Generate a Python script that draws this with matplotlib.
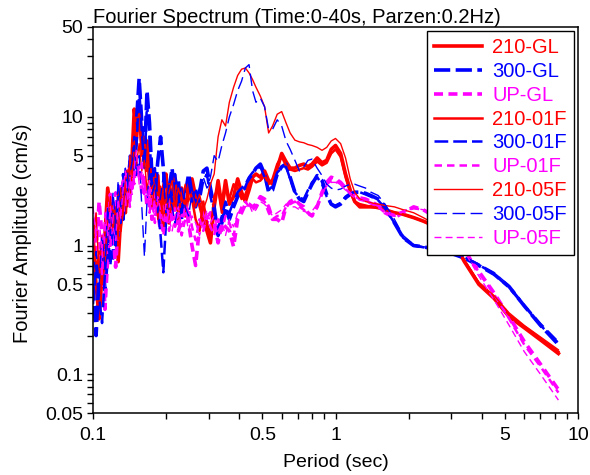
import numpy as np
import matplotlib
matplotlib.use("Agg")
import matplotlib.pyplot as plt
from matplotlib.ticker import FixedLocator, NullFormatter

plt.rcParams['font.family'] = ['Liberation Sans', 'DejaVu Sans']

# period grid (sec)
period = [0.100, 0.103, 0.106, 0.109, 0.112, 0.115, 0.118, 0.121, 0.124, 0.127,
          0.130, 0.133, 0.136, 0.139, 0.142, 0.145, 0.148, 0.151, 0.155, 0.159,
          0.163, 0.167, 0.171, 0.175, 0.180, 0.185, 0.190, 0.195, 0.200, 0.206,
          0.212, 0.218, 0.225, 0.232, 0.240, 0.248, 0.256, 0.265, 0.275, 0.285,
          0.295, 0.305, 0.316, 0.328, 0.340, 0.352, 0.365, 0.380, 0.395, 0.410,
          0.425, 0.440, 0.455, 0.470, 0.490, 0.510, 0.530, 0.550, 0.575, 0.600,
          0.625, 0.650, 0.680, 0.710, 0.740, 0.770, 0.800, 0.840, 0.880, 0.920,
          0.960, 1.000, 1.050, 1.100, 1.150, 1.200, 1.260, 1.330, 1.400, 1.500,
          1.600, 1.750, 1.900, 2.100, 2.300, 2.600, 3.000, 3.400, 3.900, 4.500,
          5.200, 6.000, 7.000, 8.300]

a_210_gl = [0.85, 0.5, 0.27, 0.6, 1.2, 2.8, 1.9, 1.2, 1.8, 0.75,
            1.6, 2.5, 1.8, 3.8, 2.6, 5.0, 11.5, 8.0, 13.0, 6.0,
            4.5, 6.5, 3.2, 4.0, 2.0, 3.5, 1.5, 2.8, 3.6, 1.5,
            2.6, 3.3, 2.2, 2.8, 1.7, 2.7, 3.3, 2.4, 2.1, 1.6,
            1.3, 1.05, 2.0, 3.2, 2.0, 3.2, 2.1, 2.4, 3.3, 2.6,
            2.2, 2.7, 3.4, 3.6, 3.4, 3.8, 3.2, 3.0, 4.0, 5.2,
            4.5, 4.0, 4.0, 4.2, 4.3, 4.1, 4.3, 4.8, 4.4, 4.6,
            5.6, 6.0, 5.2, 3.6, 2.7, 2.2, 2.0, 2.0, 2.0, 2.0,
            1.9, 1.8, 1.75, 1.65, 1.55, 1.4, 1.15, 0.75, 0.5, 0.39,
            0.28, 0.23, 0.185, 0.145]

a_300_gl = [0.5, 0.2, 0.6, 1.0, 0.45, 0.9, 1.5, 0.8, 2.2, 1.2,
            2.8, 1.6, 3.0, 2.2, 4.0, 3.0, 5.5, 9.0, 20.0, 9.0,
            4.5, 16.0, 9.0, 3.5, 2.5, 4.5, 7.0, 4.0, 2.2, 2.8,
            4.0, 2.0, 3.2, 1.6, 2.5, 3.6, 2.5, 2.0, 2.6, 3.8,
            4.0, 2.8, 2.0, 1.2, 1.5, 2.0, 1.6, 2.0, 2.4, 2.7,
            2.8, 3.3, 3.6, 4.0, 4.3, 3.6, 2.6, 2.7, 3.6, 4.1,
            4.3, 3.4, 2.6, 2.3, 2.2, 2.6, 3.0, 3.5, 3.2, 2.5,
            2.1, 2.0, 2.1, 2.35, 2.5, 2.6, 2.6, 2.55, 2.45, 2.3,
            2.0, 1.5, 1.15, 1.0, 0.98, 0.93, 0.87, 0.8, 0.7, 0.6,
            0.48, 0.34, 0.24, 0.17]

a_up_gl = [1.6, 0.9, 2.2, 1.2, 0.32, 0.8, 2.5, 1.2, 0.68, 1.5,
           3.0, 1.8, 3.6, 2.4, 4.5, 2.8, 5.0, 3.6, 4.2, 2.6,
           3.5, 2.0, 2.8, 1.6, 2.6, 1.8, 1.3, 2.0, 1.5, 2.2,
           1.6, 2.0, 1.3, 1.6, 2.2, 1.5, 1.0, 0.7, 1.4, 1.9,
           1.5, 1.8, 1.5, 1.05, 1.5, 1.4, 1.3, 0.98, 1.6, 1.8,
           2.1, 2.1, 2.0, 2.1, 2.4, 2.3, 2.0, 1.6, 1.6, 1.5,
           2.0, 2.2, 2.3, 2.1, 2.0, 1.8, 1.7, 2.0, 2.6, 3.1,
           3.4, 3.3, 3.1, 2.8, 2.6, 2.45, 2.35, 2.3, 2.2, 2.05,
           1.8, 1.65, 1.8, 2.0, 1.9, 1.65, 1.3, 0.95, 0.63, 0.43,
           0.28, 0.18, 0.12, 0.076]

a_210_01f = [1.4, 0.6, 0.9, 0.5, 0.8, 1.6, 1.0, 2.2, 1.4, 2.6,
             1.3, 2.0, 3.5, 2.4, 4.5, 3.2, 9.5, 6.0, 10.5, 5.0,
             7.0, 3.8, 5.0, 2.8, 3.6, 1.8, 2.6, 1.3, 2.5, 3.0,
             1.8, 3.5, 1.6, 2.6, 2.0, 3.0, 2.3, 1.6, 1.3, 2.2,
             1.5, 1.2, 2.4, 2.8, 1.8, 2.9, 2.3, 3.0, 2.8, 2.3,
             2.5, 3.0, 3.3, 3.1, 3.2, 3.5, 3.0, 3.3, 4.3, 4.9,
             4.2, 3.9, 3.8, 3.9, 4.0, 3.9, 4.1, 4.5, 4.2, 4.4,
             5.2, 5.6, 4.9, 3.4, 2.6, 2.2, 2.1, 2.05, 2.0, 1.95,
             1.9, 1.8, 1.75, 1.65, 1.55, 1.4, 1.15, 0.76, 0.51, 0.40,
             0.29, 0.235, 0.19, 0.15]

a_300_01f = [0.35, 0.7, 0.4, 0.25, 0.6, 1.3, 0.7, 1.8, 1.0, 2.4,
             1.5, 3.6, 2.0, 3.0, 5.0, 3.8, 7.0, 5.5, 17.0, 7.5,
             4.0, 13.0, 7.0, 3.0, 4.0, 2.0, 1.2, 0.62, 1.5, 3.0,
             2.2, 3.6, 2.4, 1.8, 2.8, 3.2, 2.2, 2.8, 2.2, 3.2,
             3.6, 2.4, 1.8, 1.4, 1.7, 2.2, 1.8, 2.2, 2.6, 2.8,
             3.0, 3.4, 3.7, 3.9, 4.1, 3.4, 2.7, 2.9, 3.7, 4.0,
             4.1, 3.3, 2.6, 2.35, 2.3, 2.7, 3.1, 3.4, 3.0, 2.4,
             2.1, 2.05, 2.15, 2.4, 2.55, 2.6, 2.6, 2.5, 2.4, 2.25,
             1.95, 1.5, 1.15, 1.0, 0.97, 0.93, 0.88, 0.81, 0.71, 0.6,
             0.47, 0.34, 0.24, 0.175]

a_up_01f = [1.0, 1.8, 1.1, 0.6, 1.4, 2.0, 1.0, 1.7, 2.6, 1.3,
            2.2, 3.3, 2.0, 3.0, 2.0, 3.8, 3.0, 4.5, 3.2, 3.8,
            2.4, 3.0, 1.8, 2.4, 1.5, 2.2, 1.6, 1.2, 1.8, 1.3,
            1.9, 1.4, 1.8, 1.2, 1.6, 2.0, 1.4, 1.1, 1.6, 1.3,
            1.7, 1.4, 1.2, 1.6, 1.3, 1.7, 1.5, 1.2, 1.7, 2.0,
            2.2, 2.0, 1.9, 2.0, 2.3, 2.2, 1.8, 1.6, 1.7, 1.7,
            2.0, 2.1, 2.2, 2.0, 1.9, 1.75, 1.7, 2.0, 2.5, 3.0,
            3.2, 3.2, 3.0, 2.75, 2.55, 2.4, 2.3, 2.25, 2.15, 2.0,
            1.8, 1.7, 1.85, 1.95, 1.9, 1.7, 1.32, 0.95, 0.62, 0.42,
            0.27, 0.17, 0.115, 0.072]

a_210_05f = [1.1, 1.8, 0.6, 1.2, 0.7, 1.5, 2.4, 1.3, 2.0, 1.1,
             2.8, 1.7, 3.2, 2.0, 5.0, 3.5, 6.5, 4.2, 6.2, 3.8,
             4.6, 2.7, 3.6, 2.0, 3.0, 1.6, 2.9, 2.3, 1.7, 2.6,
             3.2, 2.0, 2.8, 2.2, 3.0, 2.2, 2.6, 2.0, 2.5, 1.9,
             2.3, 3.0, 3.6, 7.0, 9.5, 8.5, 13.0, 17.0, 21.0, 23.5,
             24.0, 22.0, 19.5, 17.0, 14.5, 12.0, 7.5, 8.5, 10.5, 11.0,
             9.0, 7.5, 6.6, 6.4, 6.3, 6.1, 6.0, 5.8, 5.5, 5.8,
             6.5, 6.8, 6.2, 4.8, 3.3, 2.6, 2.3, 2.2, 2.15, 2.1,
             2.05, 2.0, 1.9, 1.8, 1.65, 1.45, 1.2, 0.78, 0.52, 0.41,
             0.3, 0.24, 0.195, 0.155]

a_300_05f = [0.6, 0.9, 0.5, 1.2, 0.7, 2.0, 1.2, 2.6, 1.5, 3.2,
             2.0, 2.8, 4.0, 2.6, 3.5, 4.5, 6.0, 3.5, 5.0, 2.0,
             0.82, 2.2, 4.0, 2.5, 3.0, 1.8, 2.4, 3.5, 1.8, 2.5,
             2.0, 1.5, 2.2, 2.8, 2.0, 1.7, 2.6, 2.2, 2.8, 3.4,
             2.8, 3.4, 5.0, 4.5, 6.0, 7.5, 10.0, 12.5, 16.0, 19.0,
             24.0, 25.5, 16.0, 13.0, 14.0, 12.0, 8.0, 8.0, 9.5, 8.5,
             6.5, 5.6, 4.6, 3.8, 4.1, 4.6, 4.7, 4.0, 3.5, 3.0,
             2.8, 2.7, 2.75, 2.9, 3.0, 3.0, 2.9, 2.8, 2.6, 2.45,
             2.1, 1.6, 1.2, 1.02, 0.98, 0.94, 0.89, 0.82, 0.72, 0.62,
             0.49, 0.35, 0.25, 0.18]

a_up_05f = [2.0, 1.2, 1.6, 0.9, 1.8, 1.2, 2.0, 1.4, 1.1, 2.3,
            1.6, 2.7, 3.8, 2.2, 3.4, 2.5, 4.0, 5.5, 3.0, 4.6,
            2.8, 2.2, 3.2, 2.0, 1.7, 2.4, 1.9, 1.5, 2.1, 1.6,
            1.3, 1.7, 2.0, 1.4, 1.8, 1.3, 1.7, 1.5, 1.2, 1.5,
            1.9, 1.5, 1.7, 1.3, 1.5, 1.2, 1.6, 1.4, 1.8, 1.9,
            2.0, 2.1, 1.8, 1.9, 2.2, 2.1, 1.9, 1.7, 1.8, 1.9,
            2.1, 2.0, 2.0, 1.9, 1.85, 1.8, 1.85, 2.1, 2.6, 2.9,
            3.1, 3.1, 2.95, 2.7, 2.5, 2.35, 2.25, 2.2, 2.1, 2.0,
            1.85, 1.75, 1.85, 1.95, 1.9, 1.7, 1.3, 0.9, 0.58, 0.38,
            0.24, 0.15, 0.1, 0.063]

labels = ['210-GL', '300-GL', 'UP-GL', '210-01F', '300-01F', 'UP-01F',
          '210-05F', '300-05F', 'UP-05F']
series = [a_210_gl, a_300_gl, a_up_gl, a_210_01f, a_300_01f, a_up_01f,
          a_210_05f, a_300_05f, a_up_05f]
colors = ['#ff0000', '#0000ff', '#ff00ff'] * 3
widths = [2.6, 2.6, 2.6, 1.8, 1.8, 1.8, 1.0, 1.0, 1.0]
dashes = [None, (4.5, 1.5), (2.5, 1.5),
          None, (5.5, 2.0), (3.0, 2.0),
          None, (9, 4), (5, 3)]

fig = plt.figure(figsize=(5.9, 4.75), dpi=100)
ax = fig.add_axes([0.1576, 0.1305, 0.8221, 0.8127])

for lab, y, c, w, d in zip(labels, series, colors, widths, dashes):
    line, = ax.plot(period, y, color=c, lw=w, label=lab)
    if d is not None:
        line.set_dashes(d)

ax.set_xscale('log')
ax.set_yscale('log')
ax.set_xlim(0.1, 10)
ax.set_ylim(0.05, 50)

xmaj = [0.1, 0.5, 1, 5, 10]
ymaj = [0.05, 0.1, 0.5, 1, 5, 10, 50]
ax.xaxis.set_major_locator(FixedLocator(xmaj))
ax.set_xticklabels(['0.1', '0.5', '1', '5', '10'])
ax.xaxis.set_minor_locator(FixedLocator([0.2, 0.3, 0.4, 0.6, 0.7, 0.8, 0.9,
                                         2, 3, 4, 6, 7, 8, 9]))
ax.yaxis.set_major_locator(FixedLocator(ymaj))
ax.set_yticklabels(['0.05', '0.1', '0.5', '1', '5', '10', '50'])
ax.yaxis.set_minor_locator(FixedLocator([0.06, 0.07, 0.08, 0.09, 0.2, 0.3, 0.4,
                                         0.6, 0.7, 0.8, 0.9, 2, 3, 4,
                                         6, 7, 8, 9, 20, 30, 40]))
ax.xaxis.set_minor_formatter(NullFormatter())
ax.yaxis.set_minor_formatter(NullFormatter())
ax.tick_params(which='both', direction='out', length=4, width=1,
               labelsize=14, top=False, right=False, pad=3)
ax.tick_params(axis='x', which='major', pad=6)
for s in ax.spines.values():
    s.set_linewidth(1.1)

ax.set_xlabel('Period (sec)', fontsize=14, labelpad=7)
ax.set_ylabel('Fourier Amplitude (cm/s)', fontsize=14.5)
ax.yaxis.set_label_coords(-0.125, 0.466)
ax.set_title('Fourier Spectrum (Time:0-40s, Parzen:0.2Hz)', fontsize=14.5,
             loc='left', pad=2)

leg = ax.legend(loc='upper right', fontsize=14.5, frameon=True, fancybox=False,
                edgecolor='black', framealpha=1, handlelength=2.4,
                labelspacing=0.24, borderaxespad=0.2, handletextpad=0.5,
                borderpad=0.35)
leg.get_frame().set_linewidth(1.0)
for txt, c in zip(leg.get_texts(), colors):
    txt.set_color(c)

fig.savefig('out.png', dpi=100)
